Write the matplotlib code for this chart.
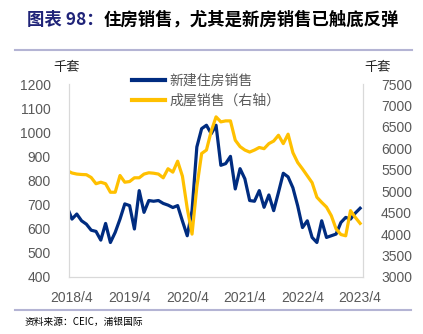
import numpy as np
import matplotlib
matplotlib.use("Agg")
import matplotlib.pyplot as plt
from matplotlib.lines import Line2D

plt.rcParams["font.family"] = ["Noto Sans CJK SC", "DejaVu Sans"]

# monthly data, 2018/3 .. 2023/4 (first point sits just left of the axis and is clipped)
new_home_sales = [
    690, 640, 661, 633, 619, 594, 589, 553, 622, 543, 585, 640,
    703, 696, 599, 758, 668, 717, 714, 717, 705, 698, 688, 696,
    632, 571, 675, 939, 1015, 1029, 994, 1029, 863, 870, 900, 765,
    849, 807, 717, 714, 758, 689, 740, 675, 751, 830, 815, 770,
    695, 605, 633, 564, 543, 633, 564, 571, 578, 626, 647, 640,
    665, 685,
]
existing_home_sales = [
    5480, 5425, 5400, 5390, 5385, 5320, 5175, 5210, 5175, 4976, 4976, 5367,
    5210, 5226, 5313, 5313, 5400, 5430, 5420, 5400, 5313, 5524, 5445, 5700,
    5350, 4600, 4000, 5100, 5880, 5960, 6400, 6734, 6617, 6640, 6640, 6190,
    6040, 5960, 5913, 5960, 6020, 5992, 6110, 6170, 6305, 6110, 6330, 5900,
    5670, 5520, 5360, 5200, 4860, 4740, 4630, 4430, 4120, 3990, 3961, 4547,
    4390, 4250,
]
tick_labels = ["2018/4", "2019/4", "2020/4", "2021/4", "2022/4", "2023/4"]
left_ticks = [400, 500, 600, 700, 800, 900, 1000, 1100, 1200]
right_ticks = [3000, 3500, 4000, 4500, 5000, 5500, 6000, 6500, 7000, 7500]

BLUE = "#002C80"
GOLD = "#FFC000"
GRAY = "#595959"
RULE = "#B4B4D4"

x = np.arange(len(new_home_sales)) - 1

fig = plt.figure(figsize=(4.23, 3.34), dpi=100)
ax = fig.add_axes([69 / 423, 1 - 277 / 334, 294 / 423, 193 / 334])
ax2 = ax.twinx()

ax.plot(x, new_home_sales, color=BLUE, lw=2.3, solid_joinstyle="round")
ax2.plot(x, existing_home_sales, color=GOLD, lw=2.3, solid_joinstyle="round")

ax.set_xlim(-0.62, 60.6)
ax.set_ylim(400, 1200)
ax2.set_ylim(3000, 7500)
ax.set_yticks(left_ticks)
ax2.set_yticks(right_ticks)
ax.set_xticks([0, 12, 24, 36, 48, 60])
ax.set_xticklabels(tick_labels)

for a in (ax, ax2):
    a.tick_params(length=0)
    for lab in a.get_xticklabels() + a.get_yticklabels():
        lab.set_fontfamily("Liberation Sans")
        lab.set_fontsize(10)
        lab.set_color(GRAY)
    for s in a.spines.values():
        s.set_color("#D9D9D9")
        s.set_linewidth(0.8)
    a.spines["top"].set_visible(False)
ax.tick_params(axis="y", pad=13)
ax.tick_params(axis="x", pad=10)
ax2.tick_params(axis="y", pad=13)

fig.text(67 / 423, 1 - 68 / 334, "千套", ha="center", va="center", fontsize=9.5, color="#222222")
fig.text(378 / 423, 1 - 67 / 334, "千套", ha="center", va="center", fontsize=9.5, color="#222222")

handles = [Line2D([], [], color=BLUE, lw=3), Line2D([], [], color=GOLD, lw=3)]
fig.legend(handles, ["新建住房销售", "成屋销售（右轴）"], loc="upper left",
           bbox_to_anchor=(132 / 423, 1 - 74 / 334), frameon=False, fontsize=10,
           handlelength=2.4, handletextpad=0.3, labelspacing=0.4,
           borderpad=0, borderaxespad=0, labelcolor=GRAY)

# title in two colours
t1 = fig.text(27 / 423, 1 - 20 / 334, "图表 98：", ha="left", va="center",
              fontsize=12.5, fontweight="bold", color="#1F2378")
fig.canvas.draw()
bb = t1.get_window_extent().transformed(fig.transFigure.inverted())
fig.text(bb.x1, 1 - 20 / 334, "住房销售，尤其是新房销售已触底反弹", ha="left", va="center",
         fontsize=12.5, fontweight="bold", color="black")

fig.add_artist(Line2D([15 / 423, 412 / 423], [1 - 50 / 334, 1 - 50 / 334], color=RULE, lw=1.5))
fig.add_artist(Line2D([15 / 423, 411 / 423], [1 - 310 / 334, 1 - 310 / 334], color=RULE, lw=1.5))
fig.text(25 / 423, 1 - 322 / 334, "资料来源：CEIC，浦银国际", ha="left", va="center", fontsize=7, color="black")

fig.savefig("out.png", dpi=100)
